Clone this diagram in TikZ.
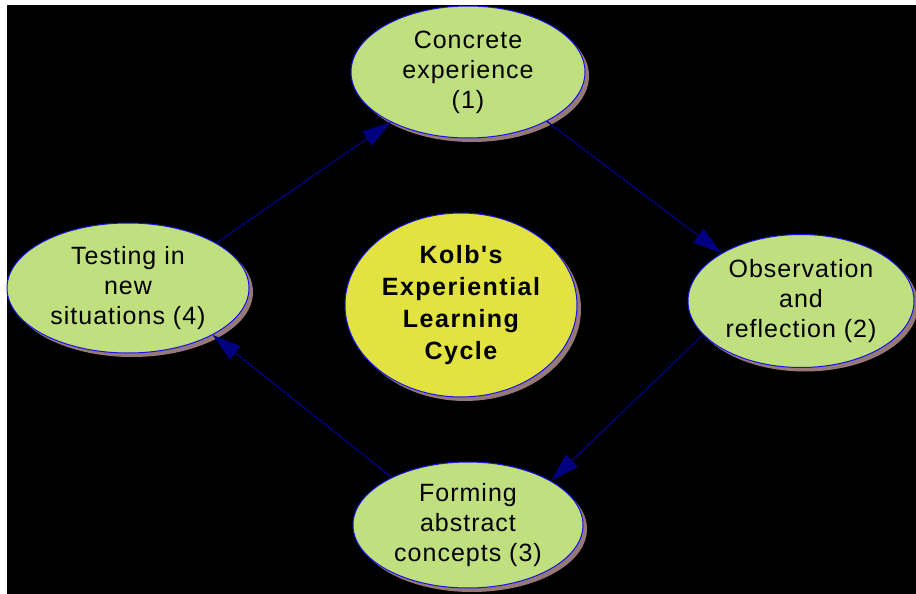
\documentclass[tikz,border=0pt]{standalone}
\usepackage{fontspec}
\setmainfont{Liberation Sans}
\usetikzlibrary{shapes.geometric,arrows.meta,shadows}
\definecolor{bubble}{RGB}{192,224,128}
\definecolor{sun}{RGB}{226,226,64}
\definecolor{rim}{RGB}{20,20,230}
\definecolor{shade}{RGB}{150,120,120}
\definecolor{link}{RGB}{0,0,128}
\newfontfamily\plainfont[LetterSpace=4]{Liberation Sans}
\newfontfamily\heavyfont[LetterSpace=6]{Liberation Sans Bold}
\begin{document}
\begin{tikzpicture}[x=1pt,y=-1pt,
  blob/.style={ellipse, draw=rim, line width=1pt, fill=bubble, inner sep=0pt,
    align=center, font=\plainfont\fontsize{25}{30}\selectfont,
    drop shadow={shadow xshift=4pt, shadow yshift=-4pt, fill=shade, opacity=1}},
  hub/.style={blob, fill=sun, font=\heavyfont\fontsize{25}{32}\selectfont},
  flow/.style={draw=link, line width=1.3pt, -{Triangle[length=29pt,width=17pt]}}]
\useasboundingbox (0,0) rectangle (916,594);
\fill[white] (0,0) rectangle (916,594);
\fill[black] (7,5) rectangle (916,594);
\node[blob, minimum width=234pt, minimum height=132pt] (ce) at (468,72) {Concrete\\experience\\(1)};
\node[blob, minimum width=226pt, minimum height=133pt] (or) at (801,301) {Observation\\and\\reflection (2)};
\node[blob, minimum width=230pt, minimum height=126pt] (fa) at (468,525) {Forming\\abstract\\concepts (3)};
\node[blob, minimum width=242pt, minimum height=130pt] (tn) at (128,288) {Testing in\\new\\situations (4)};
\node[hub, minimum width=232pt, minimum height=184pt] (kc) at (461,305) {Kolb's\\Experiential\\Learning\\Cycle};
\draw[flow] (ce.-32) -- (or.149);
\draw[flow] (or.199) -- (fa.28);
\draw[flow] (fa.148) -- (tn.-29);
\draw[flow] (tn.27) -- (ce.-147);
\end{tikzpicture}
\end{document}
